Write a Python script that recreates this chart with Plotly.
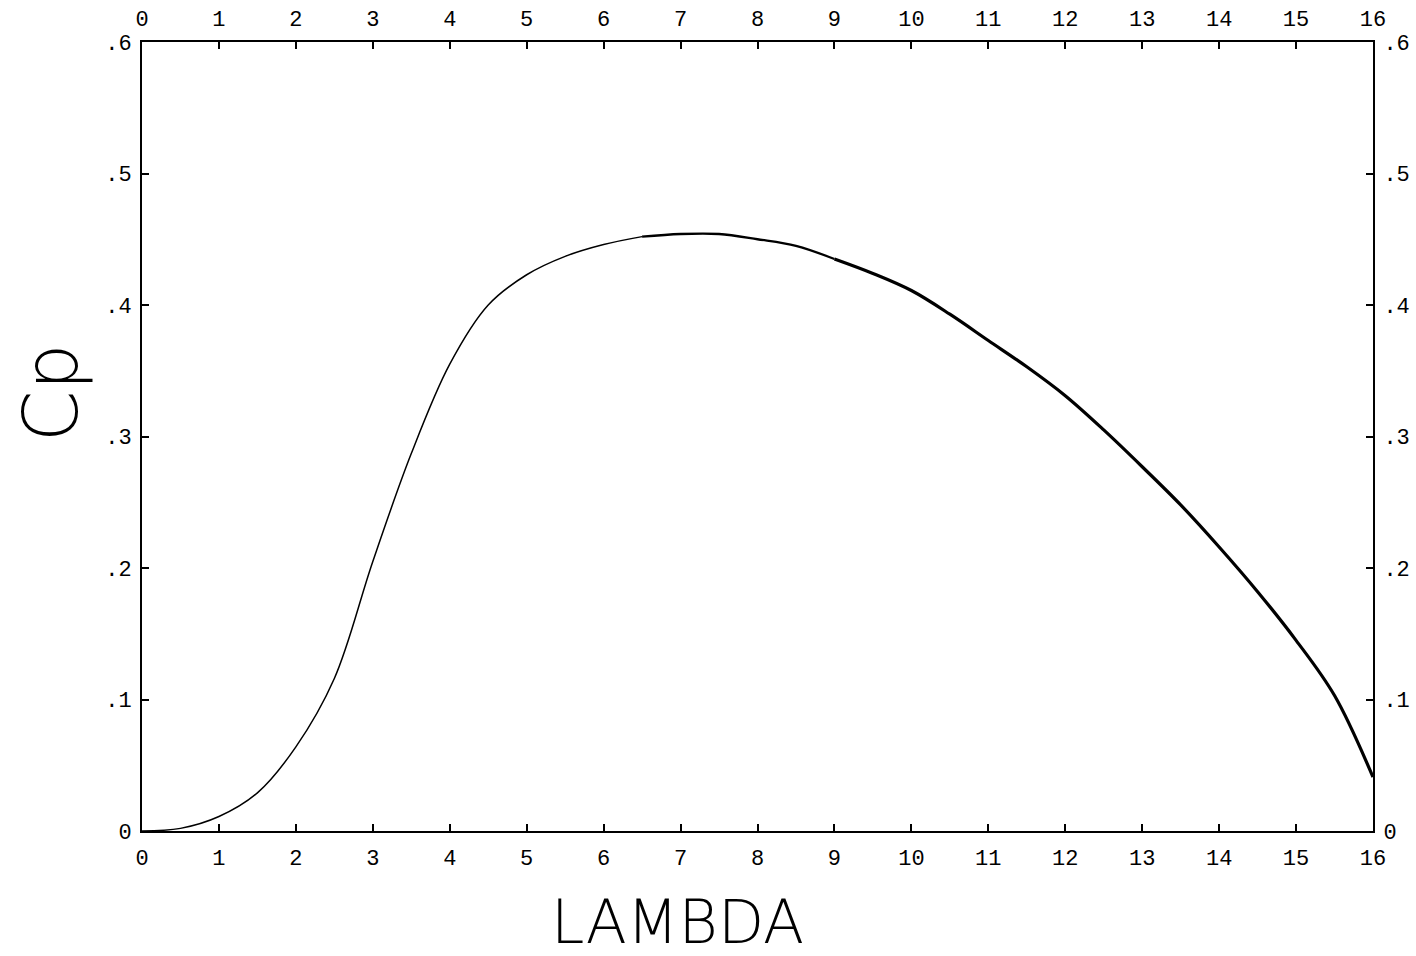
import plotly.graph_objects as go

# Data
lam = [0, 0.5, 1, 1.5, 2, 2.5, 3, 3.5, 4, 4.5, 5, 5.5, 6, 6.5, 7, 7.5, 8, 8.5,
       9, 9.5, 10, 10.5, 11, 11.5, 12, 12.5, 13, 13.5, 14, 14.5, 15, 15.5, 16]
cp = [0, 0.002, 0.011, 0.029, 0.064, 0.116, 0.205, 0.287, 0.355, 0.400, 0.423, 0.437,
      0.446, 0.452, 0.454, 0.454, 0.450, 0.445, 0.435, 0.424, 0.411, 0.393, 0.373,
      0.353, 0.331, 0.305, 0.277, 0.248, 0.216, 0.182, 0.145, 0.103, 0.041]

x_ticks = list(range(0, 17))
y_ticks = [0, 0.1, 0.2, 0.3, 0.4, 0.5, 0.6]
y_ticktext = ["0", ".1", ".2", ".3", ".4", ".5", ".6"]

# line gets heavier toward the right, as in the pen plot
segments = [(0, lam.index(6.5), 1.5), (lam.index(6.5), lam.index(9), 2.3),
            (lam.index(9), len(lam) - 1, 3.2)]

fig = go.Figure()
for i0, i1, w in segments:
    fig.add_trace(go.Scatter(x=lam[i0:i1 + 1], y=cp[i0:i1 + 1], mode="lines",
                             line=dict(color="black", width=w, shape="spline", smoothing=1),
                             showlegend=False, hoverinfo="skip"))
# invisible trace bound to secondary axes so they render
fig.add_trace(go.Scatter(x=[0, 16], y=[0, 0.6], xaxis="x2", yaxis="y2", mode="markers",
                         marker=dict(opacity=0), showlegend=False, hoverinfo="skip"))

tickfont = dict(family="Liberation Mono", size=22, color="black")
common = dict(showgrid=False, zeroline=False, showline=True, linecolor="black",
              linewidth=2, ticks="inside", ticklen=7, tickwidth=1.5, tickcolor="black",
              tickfont=tickfont, automargin=False)

fig.update_layout(
    width=1416, height=956,
    margin=dict(l=142, r=43, t=42, b=125),
    paper_bgcolor="white", plot_bgcolor="white",
    xaxis=dict(range=[0, 16], tickvals=x_ticks, ticktext=[str(v) for v in x_ticks],
               side="bottom", ticklabelstandoff=6, **common),
    xaxis2=dict(range=[0, 16], tickvals=x_ticks, ticktext=[str(v) for v in x_ticks],
                side="top", overlaying="x", ticklabelstandoff=5, **common),
    yaxis=dict(range=[0, 0.6], tickvals=y_ticks, ticktext=y_ticktext, side="left",
               ticklabelstandoff=4, **common),
    yaxis2=dict(range=[0, 0.6], tickvals=y_ticks, ticktext=y_ticktext, side="right",
                overlaying="y", ticklabelstandoff=4, **common),
    annotations=[
        dict(text="LAMBDA", xref="paper", yref="paper", x=0.435, y=-0.115,
             showarrow=False, xanchor="center", yanchor="middle",
             font=dict(family="DejaVu Sans", size=60, color="black", weight=200)),
        dict(text="Cp", xref="paper", yref="paper", x=-0.074, y=0.556,
             showarrow=False, xanchor="center", yanchor="middle", textangle=-90,
             borderpad=0,
             font=dict(family="DejaVu Sans", size=74, color="black", weight=200)),
    ],
)

fig.write_html("out.html")
